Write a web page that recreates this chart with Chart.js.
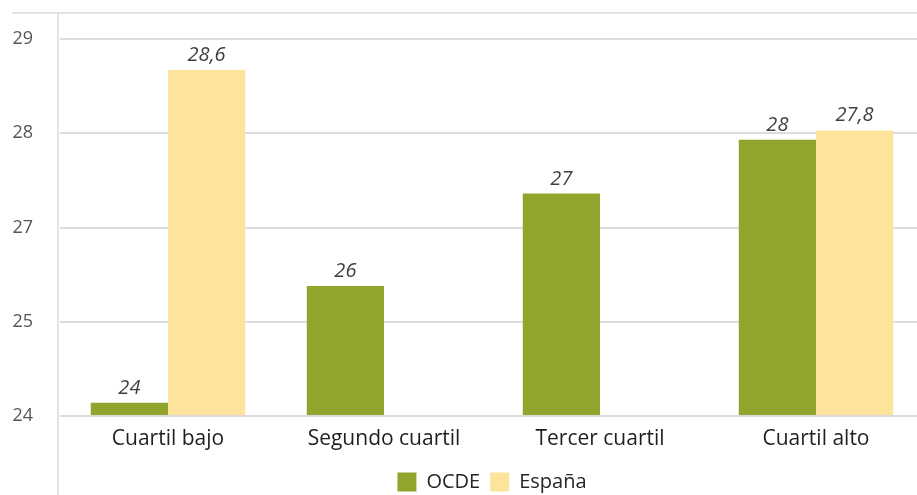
<!DOCTYPE html>
<html>
<head>
<meta charset="utf-8">
<script src="https://cdn.jsdelivr.net/npm/chart.js@4"></script>
<style>
  html, body { margin: 0; padding: 0; background: #fff; overflow: hidden; }
  #wrap { position: relative; width: 974px; height: 502px; }
</style>
</head>
<body>
<div id="wrap"><canvas id="chart"></canvas></div>
<script>
// Quartile chart, OCDE vs España (values as printed on the bars)
const CATEGORIES = ['Cuartil bajo', 'Segundo cuartil', 'Tercer cuartil', 'Cuartil alto'];
// Printed tick labels (equally spaced in the original, 26 missing)
const TICK_LABELS = ['24', '25', '27', '28', '29'];
// Bar heights measured against the tick positions above (0 = first tick)
const OCDE_HEIGHT = [0.14, 1.38, 2.36, 2.93];
const ESPANA_HEIGHT = [3.67, null, null, 3.03];
// Values printed above each bar
const OCDE_LABELS = ['24', '26', '27', '28'];
const ESPANA_LABELS = ['28,6', '', '', '27,8'];

const FONT = '"Open Sans", "Noto Sans", sans-serif';

// frame lines around the plot (light gray border of the original figure)
const framePlugin = {
  id: 'frame',
  beforeDraw(chart) {
    const c = chart.ctx;
    c.save();
    c.strokeStyle = '#e3e3e3';
    c.lineWidth = 2;
    c.beginPath();
    c.moveTo(12, 13); c.lineTo(chart.width, 13);
    c.moveTo(58, 13); c.lineTo(58, chart.height);
    c.stroke();
    c.restore();
  }
};

const valueLabels = {
  id: 'valueLabels',
  afterDatasetsDraw(chart) {
    const c = chart.ctx;
    c.save();
    c.font = 'italic 20px ' + FONT;
    c.fillStyle = '#404040';
    c.textAlign = 'center';
    c.textBaseline = 'alphabetic';
    [OCDE_LABELS, ESPANA_LABELS].forEach((labels, di) => {
      chart.getDatasetMeta(di).data.forEach((bar, i) => {
        if (!labels[i]) return;
        c.fillText(labels[i], bar.x, bar.y - 9);
      });
    });
    c.restore();
  }
};

new Chart(document.getElementById('chart'), {
  type: 'bar',
  data: {
    labels: CATEGORIES,
    datasets: [
      { label: 'OCDE', data: OCDE_HEIGHT, backgroundColor: '#91a42b' },
      { label: 'España', data: ESPANA_HEIGHT, backgroundColor: '#fde39b' }
    ]
  },
  options: {
    responsive: true,
    maintainAspectRatio: false,
    animation: false,
    layout: { padding: { top: 39, right: 50, left: 0, bottom: 0 } },
    datasets: { bar: { barPercentage: 1, categoryPercentage: 0.715 } },
    plugins: {
      tooltip: { enabled: false },
      legend: {
        position: 'bottom',
        fullSize: false,
        labels: {
          boxWidth: 19, boxHeight: 19, padding: 10,
          color: '#262626',
          font: { family: FONT, size: 20 }
        }
      }
    },
    scales: {
      x: {
        grid: { display: false, drawTicks: false },
        border: { display: false },
        ticks: { color: '#1f1f1f', padding: 10, font: { family: FONT, size: 21 } },
        afterFit(s) { s.height = 46; }
      },
      y: {
        min: 0, max: 4,
        grid: { color: '#dcdcdc', lineWidth: 2, drawTicks: false },
        border: { display: false },
        ticks: {
          stepSize: 1, padding: 27, color: '#555',
          font: { family: FONT, size: 18 },
          callback: (v) => TICK_LABELS[v]
        },
        afterFit(s) { s.width = 60; }
      }
    }
  },
  plugins: [framePlugin, valueLabels]
});
</script>
</body>
</html>
